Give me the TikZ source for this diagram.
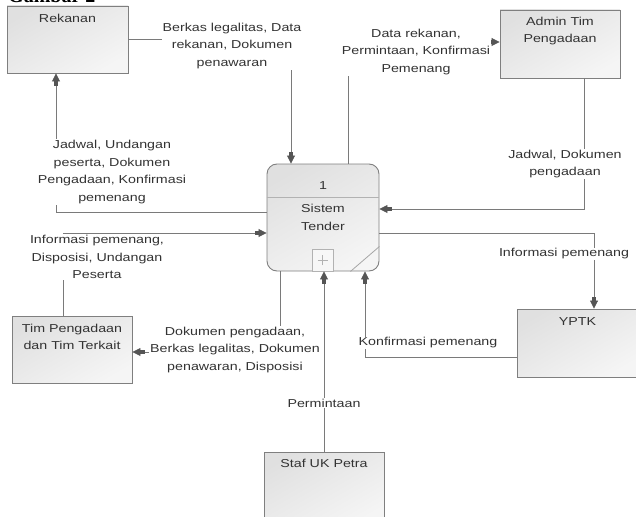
\documentclass[tikz,border=0pt]{standalone}
\usepackage{fontspec}
\setmainfont{Liberation Sans}[FakeStretch=1.24]
\newfontfamily\titlefont{Liberation Serif}
\usetikzlibrary{arrows.meta,calc}
\definecolor{ln}{HTML}{7A7A7A}
\definecolor{tipc}{HTML}{555555}
\definecolor{txt}{HTML}{333333}
\definecolor{bd}{HTML}{7F7F7F}
\tikzset{
  ent/.style={draw=bd, line width=0.9pt, top color=black!12, bottom color=black!4, shading angle=30, inner sep=0pt},
  lbl/.style={fill=white, inner sep=1pt, align=center, text=txt, font=\fontsize{11.5}{17.5}\selectfont},
  ttl/.style={inner sep=0pt, align=center, text=txt, font=\fontsize{11.5}{17.5}\selectfont},
  flow/.style={draw=ln, line width=0.8pt, -{Rectangle[length=4pt,width=4.5pt,sep=0pt,fill=tipc,color=tipc]Triangle[length=8pt,width=8pt,fill=tipc,color=tipc]}},
}
\begin{document}
\begin{tikzpicture}[x=1pt,y=-1pt]
\useasboundingbox (0,0) rectangle (636,516);
\clip (0,0) rectangle (636,516);
% title (cut off at top)
\node[anchor=base west, inner sep=0pt, font=\titlefont\bfseries\fontsize{20}{20}\selectfont] (fig) at (8,3) {Gambar 2};
% entities
\node[ent, minimum width=121pt, minimum height=67pt] (rek) at (67.5,39.5) {};
\node[ttl] (rekT) at (67.5,18) {Rekanan};
\node[ent, minimum width=120pt, minimum height=68pt] (adm) at (560,44) {};
\node[ttl] (admT) at (560,31) {Admin Tim\\Pengadaan};
\node[ent, minimum width=120pt, minimum height=67pt] (tim) at (72,349.5) {};
\node[ttl] (timT) at (72,337) {Tim Pengadaan\\dan Tim Terkait};
\node[ent, minimum width=121pt, minimum height=68pt] (yptk) at (577.5,343) {};
\node[ttl] (yptkT) at (577.5,322) {YPTK};
\node[ent, minimum width=120pt, minimum height=73pt] (staf) at (324,488.5) {};
\node[ttl] (stafT) at (324,463) {Staf UK Petra};
% process
\node[ent, rounded corners=10pt, minimum width=112pt, minimum height=107pt] (proc) at (323,217.5) {};
\draw[black!30, line width=0.8pt] ([yshift=-34pt]proc.north west) -- ([yshift=-34pt]proc.north east);
\node[ttl] (procN) at (323,186) {1};
\node[ttl] (procT) at (323,217.5) {Sistem\\Tender};
\node[draw=black!30, fill=black!3, line width=0.8pt, minimum width=21pt, minimum height=22pt, inner sep=0pt] (plus) at (322.5,260) {};
\draw[black!30, line width=0.8pt] ([xshift=-5pt]plus.center) -- ([xshift=5pt]plus.center);
\draw[black!30, line width=0.8pt] ([yshift=-5pt]plus.center) -- ([yshift=5pt]plus.center);
\draw[black!35, line width=0.8pt] ([xshift=-29pt]proc.south east) -- ([yshift=25pt]proc.south east);
% flows
\draw[flow] (rek.east) -| ([xshift=-32pt]proc.north);
\draw[flow] ([xshift=25pt]proc.north) |- ([yshift=2pt]adm.west);
\draw[flow] ([xshift=24pt]adm.south) |- ([yshift=8.5pt]proc.east);
\draw[flow] ([yshift=5.5pt]proc.west) -| ([xshift=-11.5pt]rek.south);
\draw[flow] ([xshift=-9pt]tim.north) |- ([yshift=-15.5pt]proc.west);
\draw[flow] ([xshift=-43pt]proc.south) |- ([yshift=-2.5pt]tim.east);
\draw[flow] ([yshift=-15.5pt]proc.east) -| ([xshift=16.5pt]yptk.north);
\draw[flow] ([yshift=-14pt]yptk.west) -| ([xshift=42pt]proc.south);
\draw[flow] (staf.north) -- (staf.north |- proc.south);
% labels
\node[lbl] (l1) at (232,46) {Berkas legalitas, Data\\rekanan, Dokumen\\penawaran};
\node[lbl] (l2) at (416,52) {Data rekanan,\\Permintaan, Konfirmasi\\Pemenang};
\node[lbl] (l3) at (565,164) {Jadwal, Dokumen\\pengadaan};
\node[lbl] (l4) at (112,172) {Jadwal, Undangan\\peserta, Dokumen\\Pengadaan, Konfirmasi\\pemenang};
\node[lbl] (l5) at (97,257) {Informasi pemenang,\\Disposisi, Undangan\\Peserta};
\node[lbl] (l6) at (235,350) {Dokumen pengadaan,\\Berkas legalitas, Dokumen\\penawaran, Disposisi};
\node[lbl] (l7) at (564,254) {Informasi pemenang};
\node[lbl] (l8) at (428,343) {Konfirmasi pemenang};
\node[lbl] (l9) at (324,403) {Permintaan};
\end{tikzpicture}
\end{document}
